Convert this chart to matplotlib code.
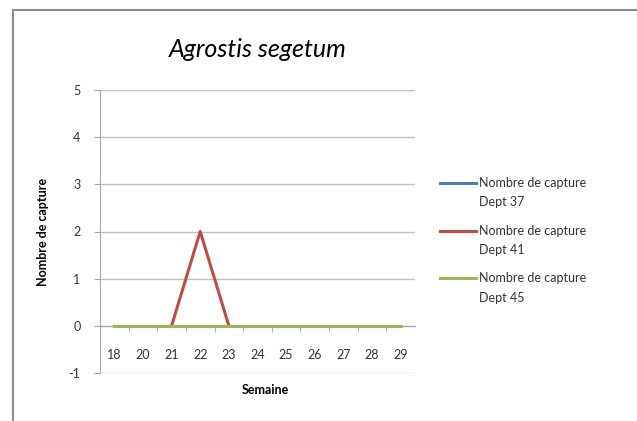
import numpy as np
import matplotlib.pyplot as plt
from matplotlib.patches import Rectangle
from matplotlib.lines import Line2D

# data
weeks = ["18", "20", "21", "22", "23", "24", "25", "26", "27", "28", "29"]
dept37 = [0, 0, 0, 0, 0, 0, 0, 0, 0, 0, 0]
dept41 = [np.nan, np.nan, 0, 2, 0, np.nan, np.nan, np.nan, np.nan, np.nan, np.nan]
dept45 = [0, 0, 0, 0, 0, 0, 0, 0, 0, 0, 0]
labels = ["Nombre de capture\nDept 37", "Nombre de capture\nDept 41",
          "Nombre de capture\nDept 45"]

plt.rcParams['font.family'] = ['Lato', 'DejaVu Sans']
plt.rcParams['axes.unicode_minus'] = False

fig = plt.figure(figsize=(6.37, 4.21), dpi=100)
ax = fig.add_axes([100 / 637, 1 - 373 / 421, 315 / 637, 283 / 421])

x = np.arange(len(weeks))
l1, = ax.plot(x, dept37, color="#4A7EBB", lw=2.2, zorder=3)
l2, = ax.plot(x, dept41, color="#BE4B48", lw=2.2, zorder=3)
l3, = ax.plot(x, dept45, color="#98B954", lw=2.2, zorder=4)

ax.set_xlim(-0.5, len(weeks) - 0.5)
ax.set_ylim(-1, 5)
ax.set_yticks(range(-1, 6))
ax.yaxis.grid(True, color="#BFBFBF", lw=1)
ax.set_axisbelow(True)

# category axis crosses at 0, ticks between categories
ax.spines['bottom'].set_position(('data', 0))
ax.spines['bottom'].set_color("#A6A6A6")
ax.spines['left'].set_color("#A6A6A6")
ax.spines['top'].set_visible(False)
ax.spines['right'].set_visible(False)
ax.set_xticks(x)
ax.set_xticklabels(weeks, fontsize=9, color="#333333")
ax.set_xticks(np.arange(len(weeks) - 1) + 0.5, minor=True)
ax.tick_params(axis='x', which='major', length=0, pad=17)
ax.tick_params(axis='x', which='minor', length=4, color="#A6A6A6", direction='out')
ax.tick_params(axis='y', length=4, color="#A6A6A6", labelsize=9, labelcolor="#333333", pad=10)

ax.set_title("Agrostis segetum", fontsize=18, style='italic', pad=24)
ax.set_ylabel("Nombre de capture", fontsize=9, fontweight='bold', labelpad=14)
fig.text(265 / 637, 1 - 390 / 421, "Semaine", fontsize=9, fontweight='bold',
         ha='center', va='center')

# legend drawn by hand: handle aligned with first text line, like Excel
for i, (line, lab) in enumerate(zip([l1, l2, l3], labels)):
    yy = 1 - (183 + 47.5 * i) / 421
    fig.add_artist(Line2D([440 / 637, 476 / 637], [yy, yy], color=line.get_color(),
                          lw=2.2, transform=fig.transFigure))
    fig.text(479 / 637, yy + 6 / 421, lab, fontsize=9, color="#333333",
             va='top', ha='left', linespacing=1.75)

# outer chart border (only left/top visible in the crop)
fig.patches.append(Rectangle((13 / 637, -0.1), 1.2, 1 - 10 / 421 + 0.1,
                             transform=fig.transFigure, fill=False,
                             edgecolor="#8C8C8C", lw=1.5))

plt.savefig("out.png", dpi=100)
